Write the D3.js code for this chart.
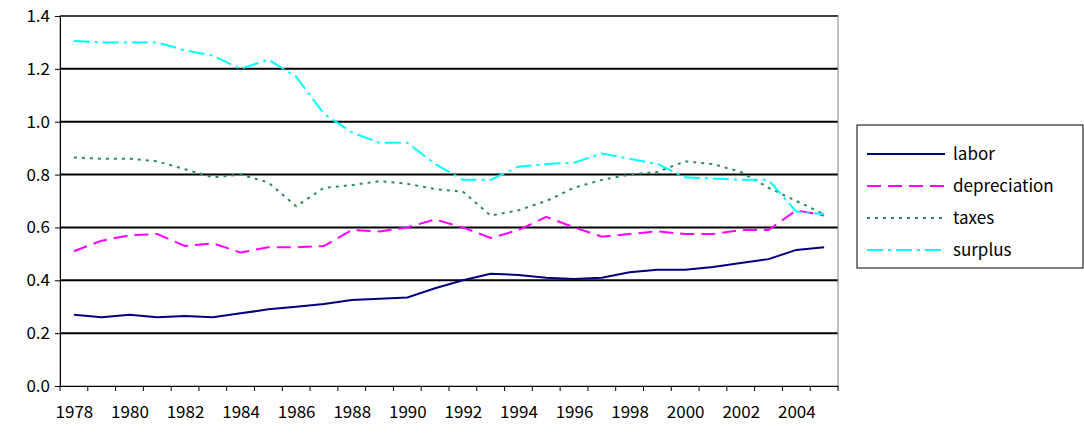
<!DOCTYPE html>
<html><head><meta charset="utf-8">
<script src="https://cdn.jsdelivr.net/npm/d3@7"></script>
<style>body{margin:0;background:#fff}text{font-family:"Noto Sans CJK JP","DejaVu Sans",sans-serif}</style>
</head><body><svg id="chart" width="1084" height="434"></svg>
<script>
const years = d3.range(1978, 2006);
const tickYears = d3.range(1978, 2005, 2);
const labor = [0.27,0.26,0.27,0.26,0.265,0.26,0.275,0.29,0.30,0.31,0.325,0.33,0.335,0.37,0.40,0.425,0.42,0.41,0.405,0.41,0.43,0.44,0.44,0.45,0.465,0.48,0.515,0.525];
const depreciation = [0.51,0.55,0.57,0.575,0.53,0.54,0.505,0.525,0.525,0.53,0.59,0.585,0.60,0.63,0.60,0.56,0.59,0.64,0.60,0.565,0.575,0.585,0.575,0.575,0.59,0.59,0.665,0.645];
const taxes = [0.865,0.86,0.86,0.85,0.82,0.79,0.80,0.77,0.68,0.75,0.76,0.775,0.765,0.745,0.735,0.645,0.665,0.70,0.75,0.78,0.80,0.81,0.85,0.84,0.81,0.75,0.70,0.65];
const surplus = [1.305,1.30,1.30,1.30,1.27,1.25,1.20,1.235,1.17,1.03,0.96,0.92,0.92,0.84,0.78,0.78,0.83,0.84,0.845,0.88,0.86,0.84,0.79,0.785,0.78,0.78,0.66,0.65];

const series = [
  {name:"labor", values:labor, color:"#000080", dash:null},
  {name:"depreciation", values:depreciation, color:"#ff00ff", dash:"14,7"},
  {name:"taxes", values:taxes, color:"#2e8b57", dash:"3,5"},
  {name:"surplus", values:surplus, color:"#00ffff", dash:"16,5,3,5"}
];

const svg = d3.select("#chart");
const pLeft = 60, pRight = 838, pTop = 16, pBottom = 386;

const x = d3.scalePoint().domain(years).range([pLeft, pRight]).padding(0.5);
const y = d3.scaleLinear().domain([0, 1.4]).range([pBottom, pTop]);

// gridlines
svg.append("g").selectAll("line").data(d3.range(0.2, 1.41, 0.2)).join("line")
  .attr("x1", pLeft).attr("x2", pRight)
  .attr("y1", d => y(d)).attr("y2", d => y(d))
  .attr("stroke", "#000").attr("stroke-width", 2);

svg.append("rect").attr("x", pLeft).attr("y", pTop)
  .attr("width", pRight - pLeft).attr("height", pBottom - pTop)
  .attr("fill", "none").attr("stroke", "#808080").attr("stroke-width", 1);

const yAxis = svg.append("g").attr("transform", `translate(${pLeft},0)`)
  .call(d3.axisLeft(y).tickValues(d3.range(0, 1.41, 0.2)).tickFormat(d3.format(".1f")).tickSize(5));
yAxis.select(".domain").attr("stroke", "#000");
yAxis.selectAll("text").attr("font-size", 17).attr("fill", "#000").attr("x", -10);

const xAxis = svg.append("g").attr("transform", `translate(0,${pBottom})`)
  .call(d3.axisBottom(x).tickValues(tickYears).tickFormat(d3.format("d")).tickSize(0));
xAxis.select(".domain").attr("stroke", "#000");
xAxis.selectAll("text").attr("font-size", 17).attr("fill", "#000").attr("dy", "1.7em");
svg.append("g").selectAll("line").data(d3.range(0, 29)).join("line")
  .attr("x1", i => pLeft + i * (pRight - pLeft) / 28).attr("x2", i => pLeft + i * (pRight - pLeft) / 28)
  .attr("y1", pBottom).attr("y2", pBottom + 5).attr("stroke", "#000");

const line = d3.line().x((d, i) => x(years[i])).y(d => y(d));
svg.append("g").selectAll("path").data(series).join("path")
  .attr("d", d => line(d.values))
  .attr("fill", "none").attr("stroke", d => d.color).attr("stroke-width", 2)
  .attr("stroke-dasharray", d => d.dash);

const lg = svg.append("g");
lg.append("rect").attr("x", 857).attr("y", 125).attr("width", 226).attr("height", 143)
  .attr("fill", "#fff").attr("stroke", "#000");
const items = lg.selectAll("g").data(series).join("g")
  .attr("transform", (d, i) => `translate(0,${154 + i * 32})`);
items.append("line").attr("x1", 867).attr("x2", 945)
  .attr("stroke", d => d.color).attr("stroke-width", 2).attr("stroke-dasharray", d => d.dash);
items.append("text").attr("x", 953).attr("dy", "0.35em").attr("font-size", 17).text(d => d.name);
</script></body></html>
